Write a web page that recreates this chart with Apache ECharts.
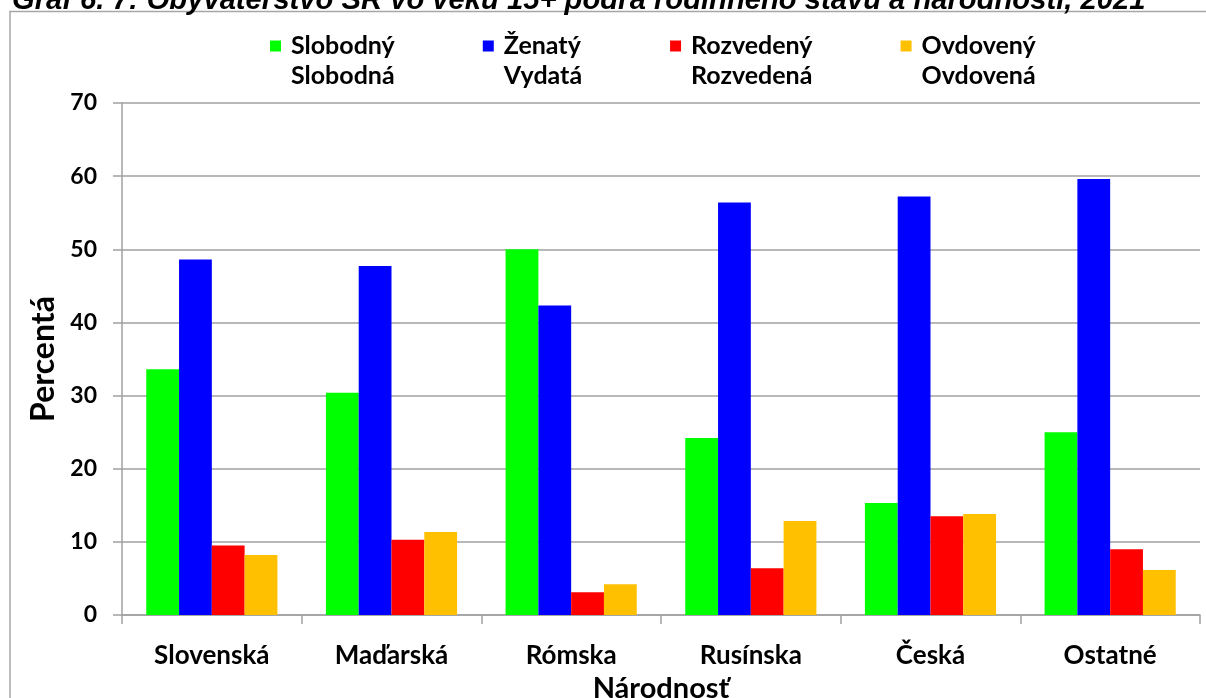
<!DOCTYPE html>
<html>
<head>
<meta charset="utf-8">
<script src="https://cdn.jsdelivr.net/npm/echarts@6/dist/echarts.min.js"></script>
<style>
html,body{margin:0;padding:0;background:#fff;}
#c{width:1206px;height:698px;}
</style>
</head>
<body>
<div id="c"></div>
<script>
const titleText = 'Graf 6. 7: Obyvateľstvo SR vo veku 15+ podľa rodinného stavu a národnosti, 2021';
const categories = ['Slovenská', 'Maďarská', 'Rómska', 'Rusínska', 'Česká', 'Ostatné'];
const seriesNames = ['Slobodný', 'Ženatý', 'Rozvedený', 'Ovdovený'];
const seriesNames2 = ['Slobodná', 'Vydatá', 'Rozvedená', 'Ovdovená'];
const slobodny = [33.6, 30.4, 50.0, 24.2, 15.3, 25.0];
const zenaty = [48.6, 47.7, 42.3, 56.4, 57.2, 59.6];
const rozvedeny = [9.5, 10.3, 3.1, 6.4, 13.5, 9.0];
const ovdoveny = [8.2, 11.35, 4.2, 12.85, 13.8, 6.15];
const yTicks = [0, 10, 20, 30, 40, 50, 60, 70];
const colors = ['#00ff00', '#0000ff', '#ff0000', '#ffc000'];
const FONT = 'Lato';

const chart = echarts.init(document.getElementById('c'), null, {renderer: 'canvas'});
const data = [slobodny, zenaty, rozvedeny, ovdoveny];
const secondLine = {};
seriesNames.forEach((n, i) => secondLine[n] = seriesNames2[i]);

chart.setOption({
  animation: false,
  backgroundColor: '#ffffff',
  graphic: [
    {type: 'rect', shape: {x: 10, y: 11.5, width: 1300, height: 800},
     style: {fill: 'none', stroke: '#a6a6a6', lineWidth: 1.5}, z: -1},
    {type: 'text', x: 12, y: 15.5,
     style: {text: titleText, fill: '#000', font: 'italic bold 29.2px "Liberation Sans"',
             verticalAlign: 'bottom', align: 'left'}}
  ],
  legend: {
    left: 265, top: -4,
    itemWidth: 11, itemHeight: 11,
    itemGap: 88,
    icon: 'rect',
    data: seriesNames,
    formatter: n => ' \n' + n + '\n' + secondLine[n],
    textStyle: {fontFamily: FONT, fontWeight: 'bold', fontSize: 25, color: '#000',
                lineHeight: 30, padding: [0, 0, 0, 5]}
  },
  grid: {left: 122, right: 6, top: 103, bottom: 83, containLabel: false, outerBoundsMode: 'none'},
  xAxis: {
    type: 'category', data: categories,
    name: 'Národnosť', nameLocation: 'middle', nameGap: 50,
    nameTextStyle: {fontFamily: FONT, fontWeight: 'bold', fontSize: 29, color: '#000'},
    axisLine: {lineStyle: {color: '#a0a0a0', width: 1.5}},
    axisTick: {show: true, length: 9, lineStyle: {color: '#a0a0a0', width: 1.5}},
    axisLabel: {fontFamily: FONT, fontWeight: 'bold', fontSize: 26, color: '#000', margin: 28}
  },
  yAxis: {
    type: 'value', min: yTicks[0], max: yTicks[yTicks.length - 1], interval: 10,
    name: 'Percentá', nameLocation: 'middle', nameGap: 58, nameRotate: 90,
    nameTextStyle: {fontFamily: FONT, fontWeight: 'bold', fontSize: 32, color: '#000'},
    axisLine: {show: true, lineStyle: {color: '#a0a0a0', width: 1.5}},
    axisTick: {show: true, length: 9, lineStyle: {color: '#a0a0a0', width: 1.5}},
    splitLine: {lineStyle: {color: '#a0a0a0', width: 1.5}},
    axisLabel: {fontFamily: FONT, fontWeight: 'bold', fontSize: 23, color: '#000', margin: 25}
  },
  series: seriesNames.map((n, i) => ({
    name: n, type: 'bar', data: data[i],
    barGap: '0%', barCategoryGap: '27%',
    itemStyle: {color: colors[i]}
  }))
});
</script>
</body>
</html>
